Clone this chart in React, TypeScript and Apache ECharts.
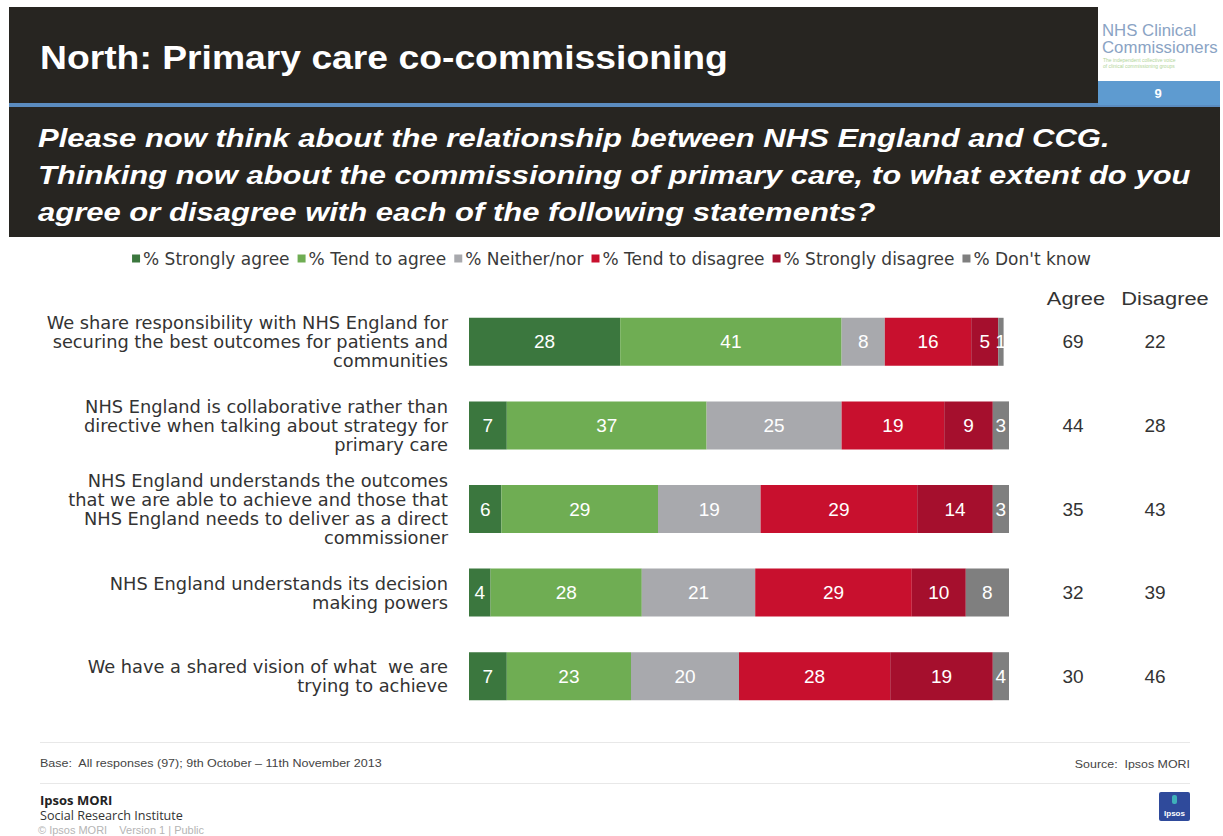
import React, { useEffect, useRef } from "react";
import * as echarts from "echarts";

const categories = [
  "We share responsibility with NHS England for\nsecuring the best outcomes for patients and\ncommunities",
  "NHS England is collaborative rather than\ndirective when talking about strategy for\nprimary care",
  "NHS England understands the outcomes\nthat we are able to achieve and those that\nNHS England needs to deliver as a direct\ncommissioner",
  "NHS England understands its decision\nmaking powers",
  "We have a shared vision of what  we are\ntrying to achieve",
];
const seriesNames = [
  "% Strongly agree",
  "% Tend to agree",
  "% Neither/nor",
  "% Tend to disagree",
  "% Strongly disagree",
  "% Don't know",
];
const stronglyAgree = [28, 7, 6, 4, 7];
const tendToAgree = [41, 37, 29, 28, 23];
const neitherNor = [8, 25, 19, 21, 20];
const tendToDisagree = [16, 19, 29, 29, 28];
const stronglyDisagree = [5, 9, 14, 10, 19];
const dontKnow = [1, 3, 3, 8, 4];
const agreeTotals = [69, 44, 35, 32, 30];
const disagreeTotals = [22, 28, 43, 39, 46];
const colors = ["#3b773e", "#6fad53", "#a8a9ad", "#c8102e", "#a50f2d", "#7f7f7f"];

const FONT = "'Liberation Sans', Arial, sans-serif";
const WIDE = "'DejaVu Sans', 'Liberation Sans', sans-serif";
const SX = 1.15;

export default function App() {
  const ref = useRef<HTMLDivElement>(null);
  useEffect(() => {
    document.body.style.margin = "0";
    const chart = echarts.init(ref.current!, null, { renderer: "svg" });
    const seriesData = [stronglyAgree, tendToAgree, neitherNor, tendToDisagree, stronglyDisagree, dontKnow];
    const txt = (x: number, y: number, style: any, scaleX = SX) => ({
      type: "text", x, y, scaleX, style: { textVerticalAlign: "middle", ...style },
    });
    chart.setOption({
      animation: false,
      backgroundColor: "#ffffff",
      textStyle: { fontFamily: FONT },
      legend: {
        top: 245,
        left: "center",
        itemWidth: 8,
        itemHeight: 8,
        itemGap: 8,
        icon: "rect",
        textStyle: { fontSize: 17, color: "#3a3a3a", fontFamily: WIDE, padding: [0, 0, 0, -2] },
        data: seriesNames,
      },
      grid: { left: 469, top: 300, width: 540, height: 418 },
      xAxis: { type: "value", min: 0, max: 100, show: false },
      yAxis: [
        {
          type: "category",
          inverse: true,
          data: categories,
          axisLine: { show: false },
          axisTick: { show: false },
          axisLabel: {
            color: "#333333",
            fontSize: 17.8,
            lineHeight: 19,
            align: "right",
            margin: 21,
            fontFamily: WIDE,
          },
        },
        {
          type: "category",
          inverse: true,
          position: "right",
          data: agreeTotals.map(String),
          axisLine: { show: false },
          axisTick: { show: false },
          axisLabel: { color: "#333333", fontSize: 19, align: "center", margin: 64, fontFamily: FONT },
        },
        {
          type: "category",
          inverse: true,
          position: "right",
          offset: 82,
          data: disagreeTotals.map(String),
          axisLine: { show: false },
          axisTick: { show: false },
          axisLabel: { color: "#333333", fontSize: 19, align: "center", margin: 64, fontFamily: FONT },
        },
      ],
      series: seriesNames.map((name, i) => ({
        name,
        type: "bar",
        stack: "total",
        barWidth: 48,
        itemStyle: { color: colors[i] },
        label: {
          show: true,
          position: "inside",
          color: "#ffffff",
          fontSize: 19,
          fontFamily: FONT,
        },
        data: seriesData[i],
      })),
      graphic: [
        { type: "rect", shape: { x: 9, y: 7, width: 1089, height: 97 }, style: { fill: "#272521" } },
        { type: "rect", shape: { x: 9, y: 103, width: 1211, height: 4 }, style: { fill: "#5b8cc0" } },
        { type: "rect", shape: { x: 9, y: 107, width: 1211, height: 130 }, style: { fill: "#272521" } },
        { type: "rect", shape: { x: 1098, y: 81, width: 122, height: 24 }, style: { fill: "#5e9bd0" } },
        txt(1158, 93, { text: "9", fill: "#ffffff", font: `bold 13px ${FONT}`, textAlign: "center" }, 1),
        txt(40, 57, { text: "North: Primary care co-commissioning", fill: "#ffffff", font: `bold 33px ${FONT}` }, 1.13),
        {
          type: "text", x: 1102, y: 22, scaleX: 1.05,
          style: { text: "NHS Clinical\nCommissioners", fill: "#8aa3c4", font: `16px ${FONT}`, lineHeight: 17 },
        },
        {
          type: "text", x: 1103, y: 57,
          style: { text: "The independent collective voice\nof clinical commissioning groups", fill: "#b2d59a", font: `5px ${FONT}`, lineHeight: 6 },
        },
        {
          type: "text", x: 38, y: 119, scaleX: 1.193,
          style: {
            text: "Please now think about the relationship between NHS England and CCG.\nThinking now about the commissioning of primary care, to what extent do you\nagree or disagree with each of the following statements?",
            fill: "#ffffff",
            font: `italic bold 26px ${FONT}`,
            lineHeight: 37,
          },
        },
        txt(1076, 298, { text: "Agree", fill: "#333333", font: `19px ${FONT}`, textAlign: "center" }),
        txt(1165, 298, { text: "Disagree", fill: "#333333", font: `19px ${FONT}`, textAlign: "center" }),
        { type: "rect", shape: { x: 40, y: 742, width: 1150, height: 1 }, style: { fill: "#e8e8e8" } },
        { type: "rect", shape: { x: 40, y: 783, width: 1150, height: 1 }, style: { fill: "#e8e8e8" } },
        txt(40, 763, { text: "Base:  All responses (97); 9th October \u2013 11th November 2013", fill: "#444444", font: `11px ${FONT}` }, 1.14),
        txt(1190, 764, { text: "Source:  Ipsos MORI", fill: "#444444", font: `11px ${FONT}`, textAlign: "right" }, 1.13),
        txt(40, 800, { text: "Ipsos MORI", fill: "#222222", font: `bold 13px 'Open Sans', sans-serif` }, 1),
        txt(40, 816, { text: "Social Research Institute", fill: "#333333", font: `12px 'Open Sans', sans-serif` }, 1.05),
        txt(38, 830, { text: "\u00a9 Ipsos MORI    Version 1 | Public", fill: "#b5b5b5", font: `10px ${FONT}` }, 1.1),
        { type: "rect", shape: { x: 1159, y: 792, width: 31, height: 29, r: 2 }, style: { fill: "#2f4a9b" } },
        { type: "rect", shape: { x: 1172, y: 795, width: 5, height: 9, r: 2 }, style: { fill: "#3fb0b9" } },
        txt(1174.5, 813, { text: "Ipsos", fill: "#ffffff", font: `bold 8px ${FONT}`, textAlign: "center" }, 1),
      ],
    });
    return () => chart.dispose();
  }, []);
  return <div ref={ref} style={{ width: 1223, height: 836 }} />;
}
